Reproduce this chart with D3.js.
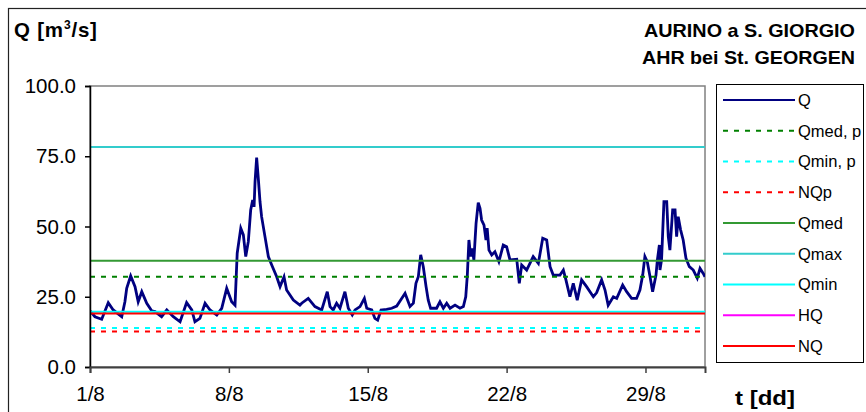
<!DOCTYPE html>
<html>
<head>
<meta charset="utf-8">
<script src="https://cdn.jsdelivr.net/npm/d3@7"></script>
<style>
  html, body { margin: 0; padding: 0; background: #fff; }
  svg { display: block; font-family: "Liberation Sans", Arial, sans-serif; }
</style>
</head>
<body>
<svg id="chart" width="866" height="412"></svg>
<script>
// ---- DATA ----
// time in days since 1/8 (0 = 1 Aug 00:00), discharge Q in m3/s
const qTime = [0.00,0.25,0.59,0.92,1.17,1.60,1.76,1.85,2.05,2.27,2.43,2.61,2.86,3.11,3.28,3.61,3.87,4.20,4.54,4.87,5.13,5.29,5.54,5.80,6.05,6.39,6.64,6.89,7.14,7.31,7.42,7.60,7.73,7.85,7.98,8.10,8.20,8.27,8.32,8.40,8.49,8.57,8.65,8.82,8.99,9.16,9.41,9.58,9.78,9.91,10.25,10.58,10.67,11.00,11.34,11.68,11.96,12.10,12.26,12.43,12.60,12.85,13.02,13.22,13.36,13.61,13.83,13.95,14.20,14.36,14.50,14.67,14.95,15.21,15.46,15.71,15.88,16.13,16.30,16.43,16.55,16.67,16.80,16.94,17.05,17.17,17.47,17.64,17.81,17.98,18.15,18.40,18.65,18.82,18.94,19.02,19.10,19.19,19.27,19.35,19.46,19.57,19.66,19.74,19.86,19.96,20.02,20.11,20.25,20.41,20.61,20.83,21.00,21.17,21.51,21.64,21.76,22.01,22.34,22.60,22.82,23.02,23.19,23.35,23.69,23.86,23.99,24.19,24.36,24.56,24.78,25.03,25.37,25.54,25.79,25.96,26.12,26.38,26.55,26.85,27.05,27.30,27.55,27.72,27.86,27.97,28.09,28.23,28.36,28.53,28.60,28.70,28.73,28.81,28.93,29.07,29.15,29.23,29.37,29.49,29.57,29.65,29.77,29.90,30.04,30.21,30.41,30.61,30.75,30.91,31.00];
const qFlow = [20.0,17.9,17.0,22.9,20.3,17.9,23.2,28.0,32.4,28.6,23.2,26.8,22.7,20.0,19.7,17.9,20.3,17.9,16.1,22.9,20.3,16.1,17.3,22.7,20.3,18.5,20.9,28.0,23.2,22.0,40.5,49.4,47.0,39.3,44.6,55.9,59.4,57.0,66.0,74.5,66.5,58.8,53.5,46.4,39.3,36.3,32.1,28.6,32.1,27.4,23.8,22.0,22.7,24.4,21.5,20.3,26.8,21.5,20.3,22.7,20.9,26.8,20.9,18.5,20.3,21.5,24.4,20.9,20.3,17.3,16.7,20.3,20.5,20.9,21.7,24.4,26.2,21.5,22.7,29.8,32.1,39.9,35.7,28.6,23.8,20.9,20.9,23.2,20.9,22.7,20.9,22.0,20.9,21.5,25.0,32.7,45.2,39.3,42.2,38.1,51.1,58.5,56.5,52.3,50.5,45.2,49.4,41.6,39.9,41.0,37.5,43.4,42.8,38.1,38.3,29.8,36.3,34.5,39.3,36.9,45.8,45.2,35.7,32.7,32.7,34.5,31.0,25.0,29.8,23.8,31.0,28.6,25.0,26.5,31.0,27.4,22.0,25.0,24.4,29.2,26.8,24.4,24.4,27.4,32.7,39.3,37.5,32.1,26.8,32.7,38.1,43.4,34.5,38.1,58.8,58.8,46.4,41.6,55.9,55.9,46.4,53.5,48.8,45.2,38.7,35.7,34.5,31.6,35.1,33.3,32.1];

// reference levels (legend order after Q); HQ lies above the plotted range
const refNames  = ["Qmed, p", "Qmin, p", "NQp", "Qmed", "Qmax", "Qmin", "HQ", "NQ"];
const refValues = [32.1, 13.9, 12.6, 37.8, 78.3, 19.7, null, 19.0];

const yTicks = [0, 25, 50, 75, 100];
const xTickDays = [0, 7, 14, 21, 28];
const xTickLabels = ["1/8", "8/8", "15/8", "22/8", "29/8"];

// ---- STYLES ----
const refStyles = {
  "Qmed, p": { color: "#008000", dash: "5,6", width: 2 },
  "Qmin, p": { color: "#00FFFF", dash: "5,6", width: 2 },
  "NQp":     { color: "#FF0000", dash: "5,6", width: 2 },
  "Qmed":    { color: "#339933", dash: null,  width: 2 },
  "Qmax":    { color: "#33CCCC", dash: null,  width: 2 },
  "Qmin":    { color: "#00FFFF", dash: null,  width: 2 },
  "HQ":      { color: "#FF00FF", dash: null,  width: 2 },
  "NQ":      { color: "#FF0000", dash: null,  width: 2 }
};
const qColor = "#000080";
const FONT = "Liberation Sans, Arial, sans-serif";

const svg = d3.select("#chart");
const P = { left: 90, right: 705, top: 86, bottom: 367 };

// outer chart frame (partially cropped at right/bottom)
svg.append("rect").attr("x", 8.5).attr("y", 8.5).attr("width", 1000).attr("height", 1000)
  .attr("fill", "#fff").attr("stroke", "#222").attr("stroke-width", 1.2);

const x = d3.scaleLinear().domain([0, 31]).range([P.left, P.right]);
const y = d3.scaleLinear().domain([0, 100]).range([P.bottom, P.top]);

// plot area border (gray)
svg.append("rect").attr("x", P.left).attr("y", P.top)
  .attr("width", P.right - P.left).attr("height", P.bottom - P.top)
  .attr("fill", "#fff").attr("stroke", "#808080").attr("stroke-width", 1.5);

svg.append("clipPath").attr("id", "clip").append("rect")
  .attr("x", P.left).attr("y", P.top).attr("width", P.right - P.left).attr("height", P.bottom - P.top);

const plot = svg.append("g").attr("clip-path", "url(#clip)");

// Q series
const data = qTime.map((t, i) => ({ t, q: qFlow[i] }));
plot.append("path").datum(data)
  .attr("fill", "none").attr("stroke", qColor).attr("stroke-width", 2.8)
  .attr("stroke-linejoin", "miter")
  .attr("d", d3.line().x(d => x(d.t)).y(d => y(d.q)));

// reference lines
refNames.forEach((n, i) => {
  const v = refValues[i];
  if (v == null) return;
  const s = refStyles[n];
  plot.append("line").attr("x1", P.left).attr("x2", P.right)
    .attr("y1", y(v)).attr("y2", y(v))
    .attr("stroke", s.color).attr("stroke-width", s.width)
    .attr("stroke-dasharray", s.dash);
});

// axes
const yAxis = d3.axisLeft(y).tickValues(yTicks).tickFormat(d3.format(".1f")).tickSize(5).tickPadding(9);
const gy = svg.append("g").attr("transform", `translate(${P.left},0)`).call(yAxis);
gy.select(".domain").attr("stroke", "#000").attr("stroke-width", 1.5);
gy.selectAll(".tick line").attr("stroke", "#000").attr("stroke-width", 1.5);
gy.selectAll(".tick text").attr("font-size", 20.5).attr("fill", "#000").attr("font-family", FONT);

const xAxis = d3.axisBottom(x).tickValues(xTickDays).tickFormat((d, i) => xTickLabels[i]).tickSize(6).tickPadding(18);
const gx = svg.append("g").attr("transform", `translate(0,${P.bottom})`).call(xAxis);
gx.select(".domain").attr("stroke", "#404040").attr("stroke-width", 2);
gx.selectAll(".tick line").attr("stroke", "#404040").attr("stroke-width", 1.5);
gx.selectAll(".tick text").attr("font-size", 20.5).attr("fill", "#000").attr("font-family", FONT)
  .attr("dy", "0.5em");

// titles
const yt = svg.append("text").attr("x", 14).attr("y", 37)
  .attr("font-size", 20.5).attr("font-weight", "bold").attr("fill", "#000")
  .attr("letter-spacing", 0.8);
yt.append("tspan").text("Q [m");
yt.append("tspan").text("3").attr("font-size", 12).attr("dy", -8);
yt.append("tspan").text("/s]").attr("dy", 8);

svg.append("text").attr("x", 855).attr("y", 37).attr("text-anchor", "end")
  .attr("font-size", 19).attr("font-weight", "bold").attr("fill", "#000")
  .attr("textLength", 211).attr("lengthAdjust", "spacingAndGlyphs")
  .text("AURINO a S. GIORGIO");
svg.append("text").attr("x", 855).attr("y", 64).attr("text-anchor", "end")
  .attr("font-size", 19).attr("font-weight", "bold").attr("fill", "#000")
  .attr("textLength", 213).attr("lengthAdjust", "spacingAndGlyphs")
  .text("AHR bei St. GEORGEN");

svg.append("text").attr("x", 735).attr("y", 405)
  .attr("font-size", 20).attr("font-weight", "bold").attr("fill", "#000")
  .attr("textLength", 60).attr("lengthAdjust", "spacingAndGlyphs")
  .text("t [dd]");

// legend
const L = { x: 716, y: 84, w: 147, h: 278 };
svg.append("rect").attr("x", L.x + 0.5).attr("y", L.y + 0.5).attr("width", L.w).attr("height", L.h)
  .attr("fill", "#fff").attr("stroke", "#000").attr("stroke-width", 1);

const legendItems = [{ name: "Q", color: qColor, dash: null, width: 2.2 }]
  .concat(refNames.map(n => ({ name: n, color: refStyles[n].color, dash: refStyles[n].dash, width: refStyles[n].width })));
const ly = d3.scalePoint().domain(legendItems.map(d => d.name)).range([100, 346]);
const lg = svg.append("g").selectAll("g").data(legendItems).join("g")
  .attr("transform", d => `translate(0,${ly(d.name)})`);
lg.append("line").attr("x1", 723).attr("x2", 795).attr("y1", 0).attr("y2", 0)
  .attr("stroke", d => d.color).attr("stroke-width", d => d.width)
  .attr("stroke-dasharray", d => d.dash);
lg.append("text").attr("x", 798).attr("y", 0).attr("dy", "0.36em")
  .attr("font-size", 16.5).attr("fill", "#000").text(d => d.name);
</script>
</body>
</html>
